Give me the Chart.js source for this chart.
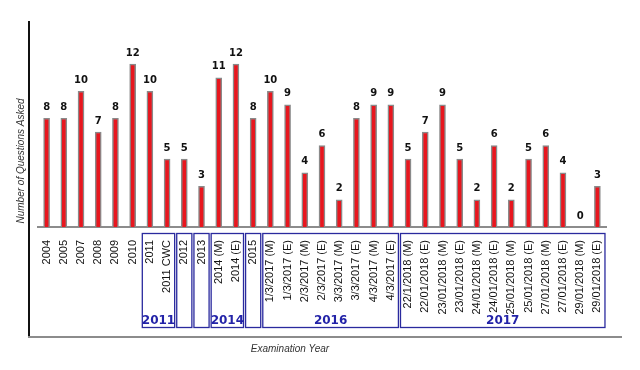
<!DOCTYPE html>
<html>
<head>
<meta charset="utf-8">
<script src="https://cdn.jsdelivr.net/npm/chart.js@4"></script>
<style>
  html, body { margin: 0; padding: 0; background: #fff; }
  #wrap { width: 640px; height: 370px; }
</style>
</head>
<body>
<div id="wrap"><canvas id="questionsChart" width="640" height="370"></canvas></div>
<script>
// exam sittings, in order
const examLabels = [
  '2004', '2005', '2007', '2008', '2009', '2010',
  '2011', '2011 CWC', '2012', '2013', '2014 (M)', '2014 (E)', '2015',
  '1/3/2017 (M)', '1/3/2017 (E)', '2/3/2017 (M)', '2/3/2017 (E)',
  '3/3/2017 (M)', '3/3/2017 (E)', '4/3/2017 (M)', '4/3/2017 (E)',
  '22/1/2018 (M)', '22/01/2018 (E)', '23/01/2018 (M)', '23/01/2018 (E)',
  '24/01/2018 (M)', '24/01/2018 (E)', '25/01/2018 (M)', '25/01/2018 (E)',
  '27/01/2018 (M)', '27/01/2018 (E)', '29/01/2018 (M)', '29/01/2018 (E)'
];
const questionCounts = [
  8, 8, 10, 7, 8, 12,
  10, 5, 5, 3, 11, 12, 8,
  10, 9, 4, 6, 2, 8, 9, 9,
  5, 7, 9, 5, 2, 6, 2, 5, 6, 4, 0, 3
];
// boxed groups under the axis: label, first index, last index
const groupNames = ['2011', '', '', '2014', '', '2016', '2017'];
const groupFrom  = [6, 8, 9, 10, 12, 13, 21];
const groupTo    = [7, 8, 9, 11, 12, 20, 32];

const extras = {
  id: 'extras',
  afterDraw(chart) {
    const c = chart.ctx;
    const x = chart.scales.x;
    c.save();

    // value labels on top of bars
    c.fillStyle = '#111';
    c.font = 'bold 10px "DejaVu Sans"';
    c.textAlign = 'center';
    c.textBaseline = 'bottom';
    chart.getDatasetMeta(0).data.forEach((bar, i) => {
      c.fillText(String(questionCounts[i]), bar.x, bar.y - 6);
    });

    // group boxes
    const half = (x.getPixelForValue(1) - x.getPixelForValue(0)) * 0.44;
    c.strokeStyle = '#2a2a9e';
    c.lineWidth = 1.3;
    for (let g = 0; g < groupNames.length; g++) {
      const x0 = x.getPixelForValue(groupFrom[g]) - half;
      const x1 = x.getPixelForValue(groupTo[g]) + half;
      c.strokeRect(x0, 233.5, x1 - x0, 94);
      if (groupNames[g]) {
        c.fillStyle = '#2323a8';
        c.font = 'bold 12px "DejaVu Sans"';
        c.textBaseline = 'middle';
        c.fillText(groupNames[g], (x0 + x1) / 2, 321);
      }
    }

    // outer frame lines
    c.strokeStyle = '#111';
    c.lineWidth = 2;
    c.beginPath();
    c.moveTo(29, 21);
    c.lineTo(29, 338);
    c.stroke();
    c.strokeStyle = '#8c8c8c';
    c.beginPath();
    c.moveTo(28, 337);
    c.lineTo(622, 337);
    c.stroke();

    // axis titles
    c.fillStyle = '#333';
    c.font = 'italic 10px "Liberation Sans"';
    c.textAlign = 'center';
    c.textBaseline = 'middle';
    c.fillText('Examination Year', 290, 349);
    c.translate(21, 161);
    c.rotate(-Math.PI / 2);
    c.fillText('Number of Questions Asked', 0, 0);
    c.restore();
  }
};

const ctx = document.getElementById('questionsChart').getContext('2d');
const chart = new Chart(ctx, {
  type: 'bar',
  data: {
    labels: examLabels,
    datasets: [{
      data: questionCounts,
      backgroundColor: '#e8161e',
      borderColor: '#8a8a8a',
      borderWidth: 1.5,
      borderSkipped: 'bottom',
      barThickness: 6
    }]
  },
  plugins: [extras],
  options: {
    responsive: false,
    animation: false,
    layout: { padding: { left: 38, right: 34, top: 37, bottom: 0 } },
    plugins: { legend: { display: false }, tooltip: { enabled: false } },
    scales: {
      x: {
        grid: { display: false },
        border: { display: true, color: '#8c8c8c', width: 2 },
        ticks: {
          autoSkip: false,
          minRotation: 90,
          maxRotation: 90,
          padding: 5,
          color: '#111',
          font: { family: '"Liberation Sans"', size: 11 }
        },
        afterFit(scale) { scale.height = 143; }
      },
      y: {
        display: false,
        min: 0,
        max: 14
      }
    }
  }
});
</script>
</body>
</html>
